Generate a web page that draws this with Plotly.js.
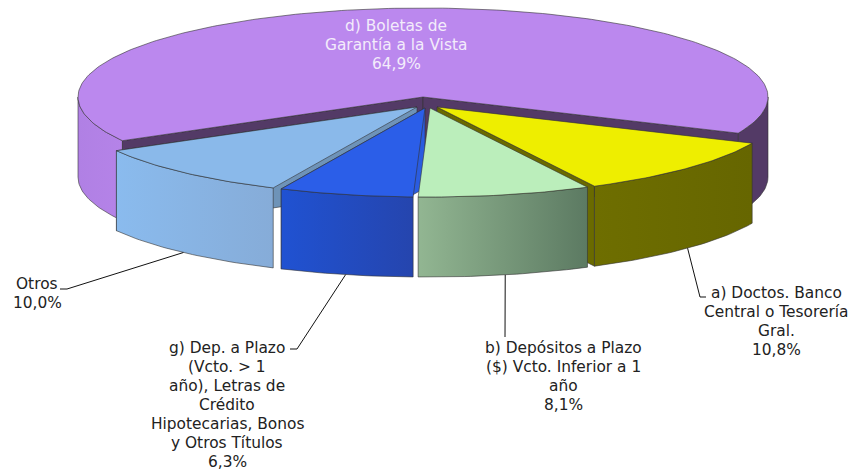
<!DOCTYPE html>
<html><head><meta charset="utf-8">
<script src="https://cdn.plot.ly/plotly-3.0.1.min.js"></script>
<style>html,body{margin:0;padding:0;background:#fff}#c{width:852px;height:470px}</style>
</head><body><div id="c"></div>
<script>
const categories = [
  ["a) Doctos. Banco", "Central o Tesorería", "Gral."],
  ["b) Depósitos a Plazo", "($) Vcto. Inferior a 1", "año"],
  ["g) Dep. a Plazo", "(Vcto. > 1", "año), Letras de", "Crédito", "Hipotecarias, Bonos", "y Otros Títulos"],
  ["Otros"],
  ["d) Boletas de", "Garantía a la Vista"]
];
const values = [10.8, 8.1, 6.3, 10.0, 64.9];
const valueLabels = ["10,8%", "8,1%", "6,3%", "10,0%", "64,9%"];
const topColors = ["#EEEE00", "#BBEEBB", "#2B5EE8", "#8AB9EA", "#BB88EE"];
const sideStart = ["#6E6E00", "#92B692", "#2052D2", "#8ABBEE", "#B583E8"];
const sideEnd = ["#666600", "#5C7A62", "#2545AE", "#86ACD8", "#B080E4"];
const wallColors = ["#6A6A00", "#5C7A62", "#2A5CE0", "#6E93B8", "#533A66"];

// layout geometry, in chart pixels
const rx = 345, ry = 89, depth = 80, startAngle = 24;
const apex = [[437,107],[430,108],[425,108],[417,107],[423,97]];
const labelPos = [[776,293],[563,348],[227,348],[37,284],[396,26]];
const lineStep = 19;
const labelColor = ["#222","#222","#222","#222","#F3ECFB"];
const drawOrder = [4,3,2,0,1];
const showWall = {3:true, 2:true, 0:true};

const total = values.reduce((a,b)=>a+b,0);
const spans = values.map(v=>v/total*360);
const starts = []; spans.reduce((acc,s,i)=>{starts[i]=acc;return acc+s;},startAngle);
const rad = d=>d*Math.PI/180;
function pt(i,ang,dy){return [apex[i][0]+rx*Math.cos(rad(ang)), apex[i][1]+ry*Math.sin(rad(ang))+(dy||0)];}
function arc(i,a0,a1,dy){const out=[],n=Math.max(2,Math.ceil(Math.abs(a1-a0)));for(let k=0;k<=n;k++)out.push(pt(i,a0+(a1-a0)*k/n,dy));return out;}
function poly(points,fill,grad,lw,lc){
  const xs=points.map(p=>p[0]).concat(points[0][0]), ys=points.map(p=>p[1]).concat(points[0][1]);
  const t={type:'scatter',mode:'lines',x:xs,y:ys,fill:'toself',fillcolor:fill,line:{color:lc||'#333',width:lw===undefined?0.6:lw,shape:'linear'},hoverinfo:'skip',showlegend:false};
  if(grad) t.fillgradient={type:'horizontal',colorscale:[[0,grad[0]],[1,grad[1]]]};
  return t;
}
function side(i,a0,a1,c0,c1){return poly(arc(i,a0,a1,0).concat(arc(i,a1,a0,depth)),c0,[c0,c1]);}
function wall(i,ang,c){const p=pt(i,ang,0);return poly([[apex[i][0],apex[i][1]],p,[p[0],p[1]+depth],[apex[i][0],apex[i][1]+depth]],c);}
const traces=[];
drawOrder.forEach(i=>{
  const a0=starts[i], a1=a0+spans[i];
  if(i===4){
    traces.push(side(i,0,a1-360,wallColors[4],wallColors[4]));
    traces.push(side(i,a0,180,sideEnd[4],sideStart[4]));
    traces.push(wall(i,a0,wallColors[4]));
    traces.push(wall(i,a1-360,wallColors[4]));
  } else {
    if(showWall[i]) traces.push(wall(i,a1,wallColors[i]));
    traces.push(side(i,a0,a1,sideStart[i],sideEnd[i]));
  }
  traces.push(poly([[apex[i][0],apex[i][1]]].concat(arc(i,a0,a1,0)),topColors[i]));
});
// leader lines: from the slice's outer bottom edge to a label elbow
const elbows=[[[700,297],[706,297]],[[505,337]],[[297,349],[290,349]],[[67,289],[60,289]]];
elbows.forEach((e,i)=>{
  const m=pt(i,starts[i]+spans[i]/2,depth);
  const p=[m].concat(e);
  traces.push({type:'scatter',mode:'lines',x:p.map(q=>q[0]),y:p.map(q=>q[1]),line:{color:'#111',width:1},hoverinfo:'skip',showlegend:false});
});
const annotations=[];
categories.forEach((lines,i)=>{
  lines.concat(valueLabels[i]).forEach((txt,k)=>{
    annotations.push({xref:'x',yref:'y',x:labelPos[i][0],y:labelPos[i][1]+k*lineStep,xanchor:'center',yanchor:'middle',align:'center',showarrow:false,
      text:txt,font:{family:'"DejaVu Sans",Verdana,sans-serif',size:15.4,color:labelColor[i]},borderpad:0});
  });
});
Plotly.newPlot('c',traces,{
  width:852,height:470,margin:{l:0,r:0,t:0,b:0},paper_bgcolor:'#fff',plot_bgcolor:'#fff',showlegend:false,
  xaxis:{range:[0,852],visible:false,fixedrange:true},
  yaxis:{range:[470,0],visible:false,fixedrange:true},
  annotations:annotations
},{displayModeBar:false,staticPlot:true});
</script></body></html>
